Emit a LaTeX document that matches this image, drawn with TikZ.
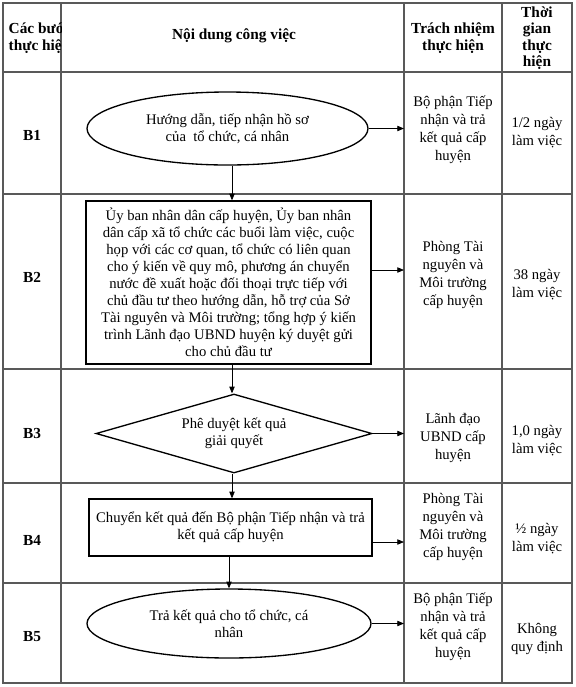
\documentclass[tikz,border=0pt]{standalone}
\usepackage{fontspec}
\setmainfont{Liberation Serif}
\usepackage{tikz}
\usetikzlibrary{arrows.meta,shapes.geometric,calc}
\newcommand{\pxu}{0.75pt}
\tikzset{
  grd/.style={draw=black!65, line width=0.8pt},
  shp/.style={draw=black, line width=1pt, align=center, inner sep=0pt,
              font=\fontsize{11}{12.7}\selectfont},
  ovl/.style={shp, ellipse},
  rbox/.style={shp, rectangle},
  dia/.style={shp, diamond, aspect=3.5},
  flw/.style={-{Triangle[length=5pt,width=4pt]}, line width=0.6pt},
  cell/.style={align=center, font=\fontsize{11}{13.5}\selectfont},
  hdr/.style={align=center, font=\bfseries\fontsize{11.5}{12.4}\selectfont},
  stp/.style={font=\bfseries\fontsize{11.5}{14}\selectfont},
}

\begin{document}
\begin{tikzpicture}[x=0.75pt, y=-0.75pt]
    \useasboundingbox (0,0) rectangle (576,687);
    \draw[grd] (3,3) rectangle (572,683);
    \foreach \xx in {61,404,502} \draw[grd] (\xx,3) -- (\xx,683);
    \foreach \yy in {72,194,369,483,583} \draw[grd] (3,\yy) -- (572,\yy);
    \begin{scope}
      \clip (3,3) rectangle (61,72);
      \node[hdr, align=left, anchor=west] (h1) at (4,38) {Các bước\\thực hiện};
    \end{scope}
    \node[hdr] (h2) at (234,36) {Nội dung công việc};
    \node[hdr] (h3) at (453,38) {Trách nhiệm\\thực hiện};
    \node[hdr] (h4) at (537,38) {Thời\\gian\\thực\\hiện};
    \foreach \nm/\yy in {B1/135,B2/277,B3/433,B4/540,B5/637}
      \node[stp] (s\nm) at (32,\yy) {\nm};
    \node[ovl, minimum width=281*\pxu, minimum height=73*\pxu] (e1) at (227.5,128.5)
      {Hướng dẫn, tiếp nhận hồ sơ\\của\ \ tổ chức, cá nhân};
    \node[rbox, minimum width=285*\pxu, minimum height=163*\pxu] (b2) at (228.5,282.5)
      {Ủy ban nhân dân cấp huyện, Ủy ban nhân\\dân cấp xã tổ chức các buổi làm việc, cuộc\\họp với các cơ quan, tổ chức có liên quan\\cho ý kiến về quy mô, phương án chuyển\\nước đề xuất hoặc đối thoại trực tiếp với\\chủ đầu tư theo hướng dẫn, hỗ trợ của Sở\\Tài nguyên và Môi trường; tổng hợp ý kiến\\trình Lãnh đạo UBND huyện ký duyệt gửi\\cho chủ đầu tư};
    \node[dia, minimum width=276*\pxu, minimum height=79*\pxu] (d3) at (234,433.5)
      {Phê duyệt kết quả\\giải quyết};
    \node[rbox, minimum width=283*\pxu, minimum height=57*\pxu] (b4) at (230.5,527.5)
      {Chuyển kết quả đến Bộ phận Tiếp nhận và trả\\kết quả cấp huyện};
    \node[ovl, minimum width=284*\pxu, minimum height=69*\pxu] (e5) at (229,623.5)
      {Trả kết quả cho tổ chức, cá\\nhân};
    \node[cell] (r1) at (453,130) {Bộ phận Tiếp\\nhận và trả\\kết quả cấp\\huyện};
    \node[cell] (r2) at (453,275) {Phòng Tài\\nguyên và\\Môi trường\\cấp huyện};
    \node[cell] (r3) at (453,438) {Lãnh đạo\\UBND cấp\\huyện};
    \node[cell] (r4) at (453,527) {Phòng Tài\\nguyên và\\Môi trường\\cấp huyện};
    \node[cell] (r5) at (453,627) {Bộ phận Tiếp\\nhận và trả\\kết quả cấp\\huyện};
    \node[cell] (t1) at (537,133) {1/2 ngày\\làm việc};
    \node[cell] (t2) at (537,285) {38 ngày\\làm việc};
    \node[cell] (t3) at (537,441) {1,0 ngày\\làm việc};
    \node[cell] (t4) at (537,539) {½ ngày\\làm việc};
    \node[cell] (t5) at (537,639) {Không\\quy định};
    \coordinate (k1) at (404,128.5);
    \coordinate (k2) at (404,270);
    \coordinate (k3) at (404,433.5);
    \coordinate (k4) at (404,542);
    \coordinate (k5) at (404,623.5);
    \coordinate (mx) at (232,0);
    \draw[flw] (e1.east) -- (k1);
    \draw[flw] (b2.east |- k2) -- (k2);
    \draw[flw] (d3.east) -- (k3);
    \draw[flw] (b4.east |- k4) -- (k4);
    \draw[flw] (e5.east) -- (k5);
    \draw[flw] (e1.south -| mx) -- (b2.north -| mx);
    \draw[flw] (b2.south -| mx) -- (d3.north -| mx);
    \draw[flw] (d3.south -| mx) -- (b4.north -| mx);
    \draw[flw] (b4.south -| e5.north) -- (e5.north);
  \end{tikzpicture}
\end{document}
